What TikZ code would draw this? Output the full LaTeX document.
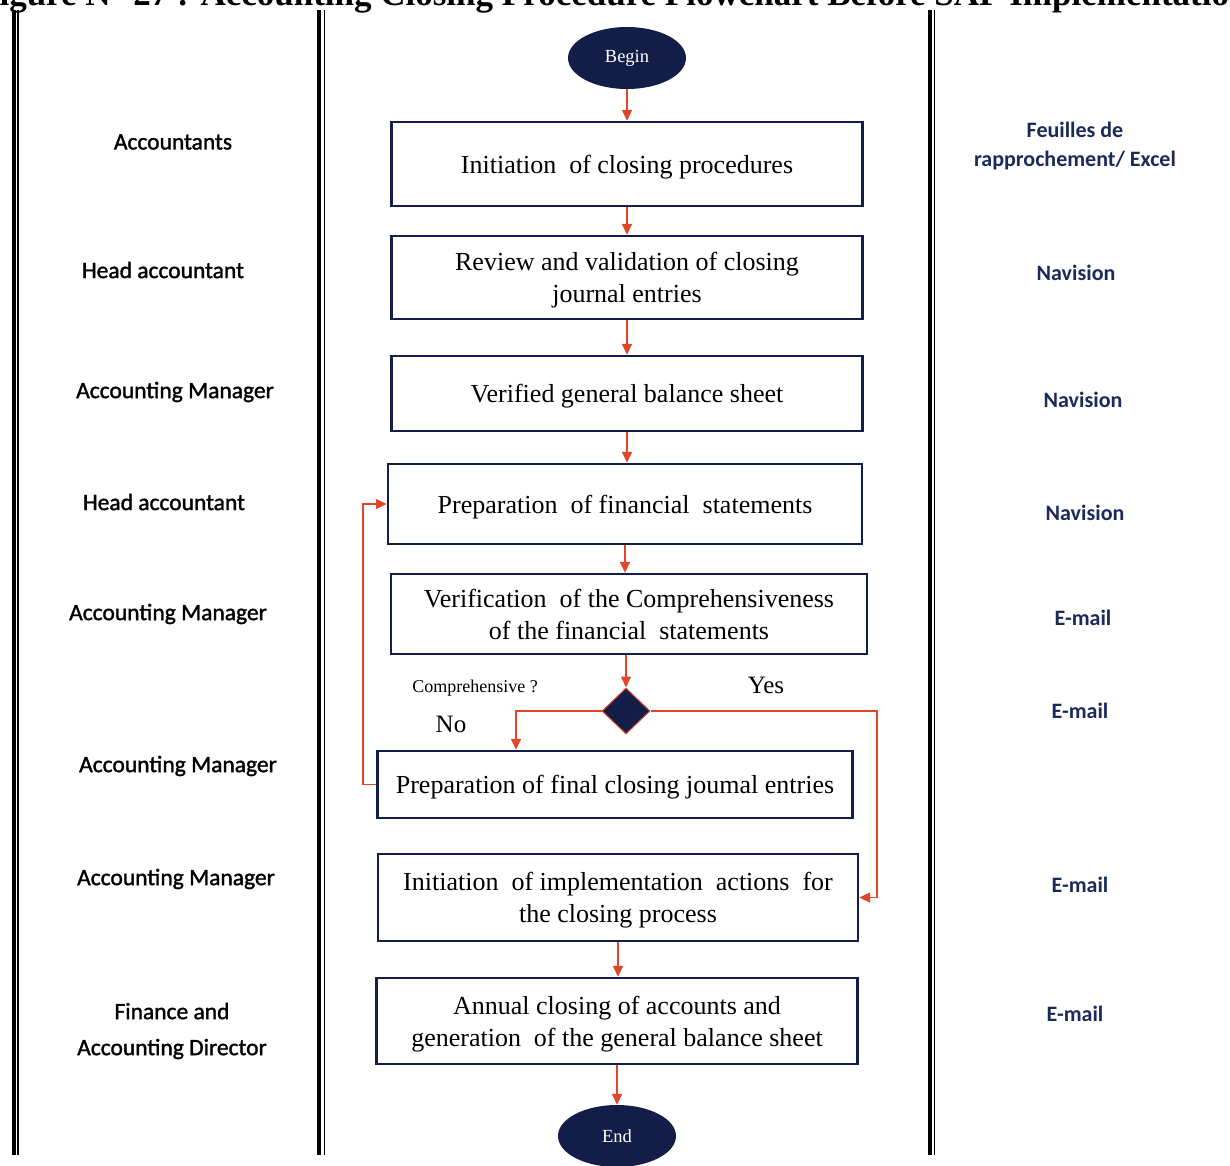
\documentclass[tikz,border=0pt]{standalone}
\usepackage{fontspec}
\setmainfont{Liberation Serif}
\newfontfamily\lanefont[FakeBold=1.4]{Carlito}
\newfontfamily\toolfont{Carlito}
\usetikzlibrary{arrows.meta,shapes.geometric}
\definecolor{navy}{HTML}{131E48}
\definecolor{flowred}{HTML}{E0462A}
\definecolor{toolblue}{HTML}{1C2A5A}

\begin{document}
\begin{tikzpicture}[x=1pt,y=-1pt,
  stepbox/.style={draw=navy,line width=2.4pt,fill=white,align=center,
    font=\fontsize{26}{32}\selectfont,inner sep=0pt,text depth=0pt},
  terminal/.style={ellipse,fill=navy,draw=none,text=white,
    font=\fontsize{18.5}{22}\selectfont,minimum width=118pt,minimum height=62pt,inner sep=0pt},
  decision/.style={diamond,fill=navy,draw=flowred,line width=1pt,
    minimum width=48pt,minimum height=46pt,inner sep=0pt},
  flow/.style={draw=flowred,line width=1.5pt,-{Triangle[length=11pt,width=10pt]}},
  role/.style={font=\lanefont\fontsize{23.5}{36}\selectfont,text=black,align=center},
  tool/.style={font=\toolfont\bfseries\fontsize{22}{29}\selectfont,text=toolblue,align=center},
  lane/.style={line width=4.3pt,black},
  laneinner/.style={line width=1.8pt,black},
  caption/.style={font=\bfseries\fontsize{35}{40}\selectfont}
]
\useasboundingbox (0,0) rectangle (1230,1165);
\clip (0,0) rectangle (1230,1165);

% figure caption (runs past the top edge)
\node[caption,anchor=base east] (title) at (1252,5)
  {Figure N° 27 : Accounting Closing Procedure Flowchart Before SAP Implementation};

% swimlane separators (double rules)
\draw[lane] (13.8,10) -- (13.8,1155);
\draw[laneinner] (18.3,10) -- (18.3,1155);
\draw[lane] (319,10) -- (319,1155);
\draw[laneinner] (324.5,10) -- (324.5,1155);
\draw[lane] (929.8,10) -- (929.8,1155);
\draw[laneinner] (934.5,10) -- (934.5,1155);

% actors
\node[role] (r1) at (173,142) {Accountants};
\node[role] (r2) at (163,270) {Head accountant};
\node[role] (r3) at (175,392) {Accounting Manager};
\node[role] (r4) at (164,502) {Head accountant};
\node[role] (r5) at (168,614) {Accounting Manager};
\node[role] (r6) at (178,766) {Accounting Manager};
\node[role] (r7) at (176,879) {Accounting Manager};
\node[role] (r8) at (172,1031) {Finance and\\Accounting Director};

% tools
\node[tool] (t1) at (1075,146) {Feuilles de\\rapprochement/ Excel};
\node[tool] (t2) at (1076,273) {Navision};
\node[tool] (t3) at (1083,400) {Navision};
\node[tool] (t4) at (1085,513) {Navision};
\node[tool] (t5) at (1083,618) {E-mail};
\node[tool] (t6) at (1080,711) {E-mail};
\node[tool] (t7) at (1080,885) {E-mail};
\node[tool] (t8) at (1075,1014) {E-mail};

% process steps
\node[terminal] (begin) at (627,58) {Begin};
\node[stepbox,minimum width=471pt,minimum height=84pt] (s1) at (627,164)
  {Initiation\ \ of closing procedures};
\node[stepbox,minimum width=471pt,minimum height=83pt] (s2) at (627,277.5)
  {Review and validation of closing\\journal entries};
\node[stepbox,minimum width=471pt,minimum height=75pt] (s3) at (627,393.5)
  {Verified general balance sheet};
\node[stepbox,minimum width=474pt,minimum height=80pt] (s4) at (625,504)
  {Preparation\ \ of financial\ \ statements};
\node[stepbox,minimum width=476pt,minimum height=80pt] (s5) at (629,614)
  {Verification\ \ of the Comprehensiveness\\of the financial\ \ statements};
\node[decision] (d) at (626,711) {};
\node[stepbox,minimum width=475pt,minimum height=67pt] (s6) at (615,784.5)
  {Preparation of final closing joumal entries};
\node[stepbox,minimum width=480pt,minimum height=87pt] (s7) at (618,897.5)
  {Initiation\ \ of implementation\ \ actions\ \ for\\the closing process};
\node[stepbox,minimum width=481pt,minimum height=86pt] (s8) at (617,1021)
  {Annual closing of accounts and\\generation\ \ of the general balance sheet};
\node[terminal] (finish) at (617,1136) {End};

% decision labels
\node[font=\fontsize{18}{20}\selectfont] (q) at (475,688) {Comprehensive ?};
\node[font=\fontsize{25}{30}\selectfont] (yes) at (766,685) {Yes};
\node[font=\fontsize{25}{30}\selectfont] (no) at (451,724) {No};

% connectors
\coordinate (nox) at (516,0);
\coordinate (yesx) at (877,0);
\coordinate (loopx) at (363,0);

\draw[flow] (begin.south) -- (s1.north);
\draw[flow] (s1.south) -- (s2.north);
\draw[flow] (s2.south) -- (s3.north);
\draw[flow] (s3.south) -- (s3.south |- s4.north);
\draw[flow] (s4.south) -- (s4.south |- s5.north);
\draw[flow] (s5.south -| d.north) -- (d.north);
\draw[flow] (d.west) -| (nox |- s6.north);
\draw[flow] (d.east) -| (yesx |- s7.east) -- (s7.east);
\draw[flow] (s6.west) -- (loopx |- s6.west) |- (s4.west);
\draw[flow] (s7.south) -- (s7.south |- s8.north);
\draw[flow] (s8.south) -- (finish.north);
\end{tikzpicture}
\end{document}
